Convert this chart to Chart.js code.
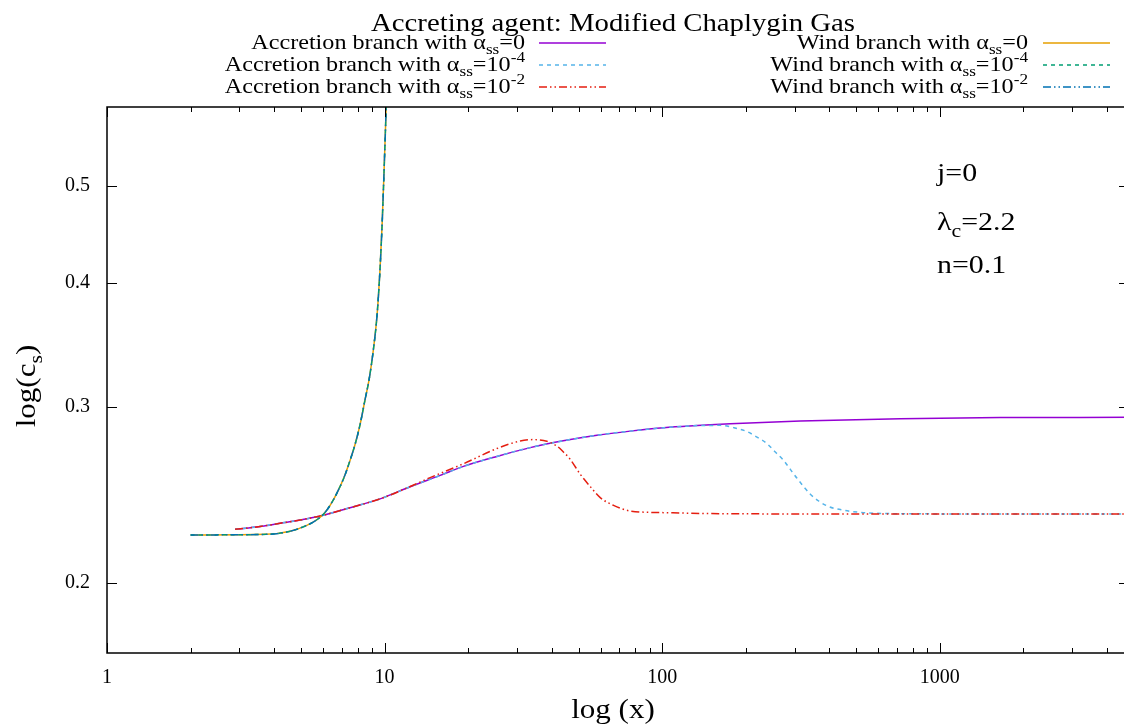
<!DOCTYPE html>
<html>
<head>
<meta charset="utf-8">
<script src="https://cdn.jsdelivr.net/npm/chart.js@4/dist/chart.umd.min.js"></script>
<style>
  html, body { margin: 0; padding: 0; background: #fff; overflow: hidden; }
  #wrap { width: 1124px; height: 725px; overflow: hidden; position: relative; }
  canvas { display: block; }
</style>
</head>
<body>
<div id="wrap"><canvas id="chart" width="1130" height="725"></canvas></div>
<script>
// ---- data: log(x) vs log(c_s) ----
const ACC_A0_X = [2.893, 3.558, 4.202, 4.961, 6.018, 7.510, 9.634, 12.36, 15.85, 19.23, 25.37, 33.45, 43.98, 58.17, 76.67, 101.1, 175.8, 314.4, 720.6, 1652, 4800];
const ACC_A0_Y = [0.2262, 0.2277, 0.2294, 0.2311, 0.2337, 0.2378, 0.2427, 0.2496, 0.2562, 0.2616, 0.2677, 0.2732, 0.2775, 0.2811, 0.2838, 0.2860, 0.2886, 0.2905, 0.2921, 0.2928, 0.2930];

const ACC_A4_X = [2.893, 3.558, 4.202, 4.961, 6.018, 7.510, 9.634, 12.36, 15.85, 19.23, 25.37, 33.45, 43.98, 58.17, 76.67, 101.1, 137.0, 161.8, 180.7, 202, 219.4, 238.4, 255.4, 273.6, 289.3, 305.8, 323.1, 341.6, 365.9, 397.6, 450.2, 531.3, 645.1, 1200, 4800];
const ACC_A4_Y = [0.2262, 0.2277, 0.2294, 0.2311, 0.2337, 0.2378, 0.2427, 0.2496, 0.2562, 0.2616, 0.2677, 0.2732, 0.2775, 0.2811, 0.2838, 0.2860, 0.2875, 0.2876, 0.2861, 0.2835, 0.2799, 0.2757, 0.2704, 0.2653, 0.2598, 0.2545, 0.2497, 0.2453, 0.2415, 0.2384, 0.2364, 0.2351, 0.2346, 0.2344, 0.2343];

const ACC_A2_X = [2.893, 3.558, 4.202, 4.961, 6.018, 7.510, 9.634, 12.36, 14.59, 19.23, 25.37, 30.78, 34.38, 38.42, 41.74, 43.98, 46.62, 50.64, 55.03, 59.78, 66.77, 76.67, 101.1, 175.8, 1000, 4800];
const ACC_A2_Y = [0.2262, 0.2277, 0.2294, 0.2311, 0.2337, 0.2378, 0.2427, 0.2497, 0.2549, 0.2632, 0.2726, 0.2774, 0.2783, 0.2772, 0.2742, 0.2706, 0.2659, 0.2569, 0.2497, 0.2434, 0.2391, 0.2360, 0.2351, 0.2345, 0.2343, 0.2343];

const WIND_X = [2.0, 3.741, 4.566, 5.244, 5.665, 6.018, 6.363, 6.725, 7.145, 7.510, 7.829, 8.161, 8.507, 8.794, 9.114, 9.397, 9.634, 9.795, 9.959, 10.125, 10.21];
const WIND_Y = [0.2233, 0.2236, 0.2252, 0.2283, 0.2310, 0.2342, 0.2391, 0.2458, 0.2551, 0.2653, 0.2753, 0.2883, 0.3055, 0.3199, 0.3429, 0.3717, 0.4145, 0.4577, 0.5197, 0.5971, 0.6472];

const BRANCHES = ['Accretion', 'Wind'];
const ALPHA_LABELS = [['0', ''], ['10', '-4'], ['10', '-2']];

const X_LABELS = [1, 10, 100, 1000];
const Y_TICKS = [0.2, 0.3, 0.4, 0.5];

// ---- look ----
const SERIF = '"Liberation Serif", "DejaVu Serif", "Times New Roman", serif';
const SX = 1.15;           // horizontal stretch of the serif lettering
const DASHED = [4, 4];
const DASH_DOT_DOT = [8, 3, 1.5, 3, 1.5, 3];

const SERIES = [
  { branch: 0, alpha: 0, xs: ACC_A0_X, ys: ACC_A0_Y, color: '#9400d3', dash: [] },
  { branch: 0, alpha: 1, xs: ACC_A4_X, ys: ACC_A4_Y, color: '#56b4e9', dash: DASHED },
  { branch: 0, alpha: 2, xs: ACC_A2_X, ys: ACC_A2_Y, color: '#e51e10', dash: DASH_DOT_DOT },
  { branch: 1, alpha: 0, xs: WIND_X, ys: WIND_Y, color: '#e69f00', dash: [] },
  { branch: 1, alpha: 1, xs: WIND_X, ys: WIND_Y, color: '#009e73', dash: DASHED },
  { branch: 1, alpha: 2, xs: WIND_X, ys: WIND_Y, color: '#0072b2', dash: DASH_DOT_DOT },
];

// minor + major tick positions on the log x axis
const X_TICKS = [];
for (let d = 1; d <= 1000; d *= 10) {
  for (let k = 1; k <= 9; k++) {
    if (d * k <= 4800) X_TICKS.push(d * k);
  }
}

// rich text: parts = [[text, 'sub'|'sup'|''], ...]
function partFont(size, kind) {
  return (kind ? Math.round(size * 0.72) : size) + 'px ' + SERIF;
}
function richWidth(ctx, parts, size) {
  let w = 0;
  for (const [t, kind] of parts) { ctx.font = partFont(size, kind); w += ctx.measureText(t).width; }
  return w * SX;
}
function drawRich(ctx, parts, x, y, size, align, rot) {
  ctx.save();
  ctx.translate(x, y);
  if (rot) ctx.rotate(rot);
  const w = richWidth(ctx, parts, size);
  ctx.scale(SX, 1);
  let cx = align === 'right' ? -w / SX : align === 'center' ? -w / SX / 2 : 0;
  ctx.fillStyle = '#000';
  ctx.textBaseline = 'alphabetic';
  ctx.textAlign = 'left';
  for (const [t, kind] of parts) {
    ctx.font = partFont(size, kind);
    const dy = kind === 'sub' ? size * 0.26 : kind === 'sup' ? -size * 0.42 : 0;
    ctx.fillText(t, cx, dy);
    cx += ctx.measureText(t).width;
  }
  ctx.restore();
}

function labelParts(s) {
  const a = ALPHA_LABELS[s.alpha];
  const parts = [[BRANCHES[s.branch] + ' branch with ', ''], ['α', ''], ['ss', 'sub'], ['=' + a[0], '']];
  if (a[1]) parts.push([a[1], 'sup']);
  return parts;
}

const decorations = {
  id: 'decorations',
  afterDraw(chart) {
    const ctx = chart.ctx;
    const a = chart.chartArea;
    const xs = chart.scales.x, ys = chart.scales.y;

    // frame
    ctx.save();
    ctx.strokeStyle = '#000';
    ctx.lineWidth = 1.5;
    ctx.strokeRect(a.left, a.top, a.right - a.left, a.bottom - a.top);

    // inward tick marks
    ctx.lineWidth = 1;
    ctx.beginPath();
    for (const t of xs.ticks) {
      const px = Math.round(xs.getPixelForValue(t.value)) + 0.5;
      const len = X_LABELS.includes(t.value) ? 10 : 5;
      ctx.moveTo(px, a.bottom); ctx.lineTo(px, a.bottom - len);
      ctx.moveTo(px, a.top); ctx.lineTo(px, a.top + len);
    }
    for (const t of ys.ticks) {
      const py = Math.round(ys.getPixelForValue(t.value)) + 0.5;
      ctx.moveTo(a.left, py); ctx.lineTo(a.left + 10, py);
      ctx.moveTo(a.right, py); ctx.lineTo(a.right - 10, py);
    }
    ctx.stroke();
    ctx.restore();

    // title
    drawRich(ctx, [['Accreting agent: Modified Chaplygin Gas', '']], 613, 31, 25, 'center');

    // key
    const cols = [{ textRight: 525, x0: 539, x1: 606 }, { textRight: 1028, x0: 1043, x1: 1110 }];
    const rows = [48.5, 70.5, 92.5];
    chart.data.datasets.forEach((ds, i) => {
      const s = SERIES[i];
      const c = cols[s.branch];
      const base = rows[s.alpha];
      drawRich(ctx, labelParts(s), c.textRight, base, 21, 'right');
      ctx.save();
      ctx.strokeStyle = ds.borderColor;
      ctx.lineWidth = ds.borderWidth;
      ctx.setLineDash(ds.borderDash || []);
      ctx.beginPath();
      ctx.moveTo(c.x0, base - 5.5);
      ctx.lineTo(c.x1, base - 5.5);
      ctx.stroke();
      ctx.restore();
    });

    // parameters
    drawRich(ctx, [['j=0', '']], 937, 181, 26, 'left');
    drawRich(ctx, [['λ', ''], ['c', 'sub'], ['=2.2', '']], 937, 230, 26, 'left');
    drawRich(ctx, [['n=0.1', '']], 937, 273, 26, 'left');

    // axis titles
    drawRich(ctx, [['log (x)', '']], 613, 718, 27, 'center');
    drawRich(ctx, [['log(c', ''], ['s', 'sub'], [')', '']], 35, 386, 27, 'center', -Math.PI / 2);
  }
};

const datasets = SERIES.map((s, i) => ({
  label: BRANCHES[s.branch] + ' ' + s.alpha,
  data: s.xs.map((x, k) => ({ x: x, y: s.ys[k] })),
  borderColor: s.color,
  borderWidth: 1.5,
  borderDash: s.dash,
  fill: false,
  pointRadius: 0,
  cubicInterpolationMode: 'monotone',
  order: SERIES.length - i,
}));

new Chart(document.getElementById('chart'), {
  type: 'line',
  data: { datasets },
  options: {
    responsive: false,
    animation: false,
    events: [],
    layout: { padding: { top: 107, right: 1, left: 0, bottom: 0 } },
    plugins: { legend: { display: false }, title: { display: false }, tooltip: { enabled: false } },
    scales: {
      x: {
        type: 'logarithmic',
        min: 1,
        max: 4800,
        afterBuildTicks: (s) => { s.ticks = X_TICKS.map(v => ({ value: v })); },
        afterFit: (s) => { s.height = 72; },
        grid: { display: false },
        border: { display: false },
        ticks: {
          autoSkip: false, maxRotation: 0, minRotation: 0,
          callback: (v) => X_LABELS.includes(v) ? String(v) : '',
          font: { family: SERIF, size: 20 }, color: '#000', padding: 5,
        },
      },
      y: {
        type: 'logarithmic',
        min: 0.17,
        max: 0.6,
        afterBuildTicks: (s) => { s.ticks = Y_TICKS.map(v => ({ value: v })); },
        afterFit: (s) => { s.width = 107; },
        grid: { display: false },
        border: { display: false },
        ticks: {
          callback: (v) => Number(v).toFixed(1),
          font: { family: SERIF, size: 20 }, color: '#000', padding: 9,
        },
      },
    },
  },
  plugins: [decorations],
});
</script>
</body>
</html>
